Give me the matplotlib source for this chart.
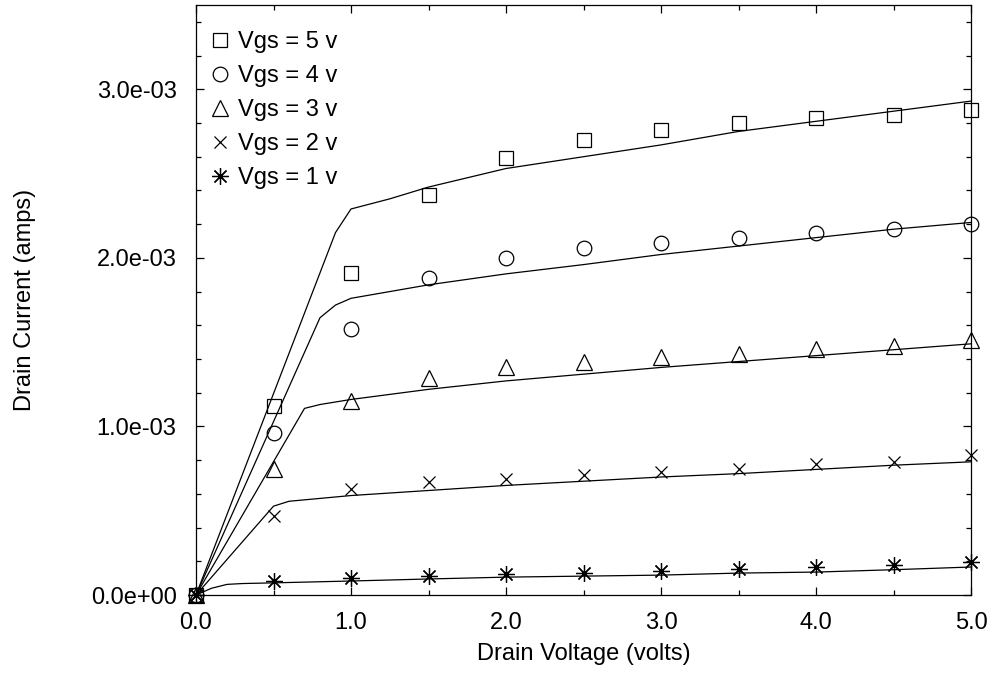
import matplotlib
matplotlib.use("Agg")
import matplotlib.pyplot as plt
from matplotlib.ticker import MultipleLocator, FormatStrFormatter

plt.rcParams['font.family'] = ['Liberation Sans', 'DejaVu Sans']

# measured points (drain voltage, volts)
vd = [0.0, 0.5, 1.0, 1.5, 2.0, 2.5, 3.0, 3.5, 4.0, 4.5, 5.0]
meas_5 = [0.0, 1.12e-3, 1.91e-3, 2.37e-3, 2.59e-3, 2.70e-3, 2.76e-3, 2.80e-3, 2.83e-3, 2.85e-3, 2.88e-3]
meas_4 = [0.0, 0.96e-3, 1.58e-3, 1.88e-3, 2.00e-3, 2.06e-3, 2.09e-3, 2.12e-3, 2.15e-3, 2.17e-3, 2.20e-3]
meas_3 = [0.0, 0.75e-3, 1.15e-3, 1.29e-3, 1.35e-3, 1.38e-3, 1.41e-3, 1.43e-3, 1.46e-3, 1.48e-3, 1.51e-3]
meas_2 = [0.0, 0.47e-3, 0.63e-3, 0.67e-3, 0.69e-3, 0.71e-3, 0.73e-3, 0.75e-3, 0.775e-3, 0.79e-3, 0.83e-3]
meas_1 = [0.0, 0.083e-3, 0.10e-3, 0.11e-3, 0.124e-3, 0.13e-3, 0.142e-3, 0.154e-3, 0.166e-3, 0.178e-3, 0.195e-3]

# model curves
mx_5 = [0.0, 0.9, 1.0, 1.25, 1.5, 2.0, 2.5, 3.0, 3.5, 4.0, 4.5, 5.0]
my_5 = [0.0, 2.15e-3, 2.29e-3, 2.35e-3, 2.42e-3, 2.53e-3, 2.60e-3, 2.67e-3, 2.75e-3, 2.81e-3, 2.87e-3, 2.93e-3]
mx_4 = [0.0, 0.8, 0.9, 1.0, 1.5, 2.0, 2.5, 3.0, 3.5, 4.0, 4.5, 5.0]
my_4 = [0.0, 1.645e-3, 1.72e-3, 1.76e-3, 1.84e-3, 1.905e-3, 1.96e-3, 2.02e-3, 2.07e-3, 2.12e-3, 2.17e-3, 2.21e-3]
mx_3 = [0.0, 0.7, 0.8, 1.0, 1.5, 2.0, 2.5, 3.0, 3.5, 4.0, 4.5, 5.0]
my_3 = [0.0, 1.107e-3, 1.13e-3, 1.16e-3, 1.22e-3, 1.27e-3, 1.31e-3, 1.35e-3, 1.385e-3, 1.42e-3, 1.455e-3, 1.49e-3]
mx_2 = [0.0, 0.5, 0.6, 1.0, 1.5, 2.0, 2.5, 3.0, 3.5, 4.0, 4.5, 5.0]
my_2 = [0.0, 0.527e-3, 0.556e-3, 0.59e-3, 0.62e-3, 0.65e-3, 0.675e-3, 0.70e-3, 0.72e-3, 0.745e-3, 0.77e-3, 0.79e-3]
mx_1 = [0.0, 0.1, 0.2, 0.3, 0.5, 1.0, 1.5, 2.0, 2.5, 3.0, 3.5, 4.0, 4.5, 5.0]
my_1 = [0.0, 0.04e-3, 0.063e-3, 0.068e-3, 0.072e-3, 0.083e-3, 0.095e-3, 0.106e-3, 0.112e-3, 0.118e-3, 0.13e-3, 0.136e-3, 0.15e-3, 0.166e-3]

labels = ["Vgs = 5 v", "Vgs = 4 v", "Vgs = 3 v", "Vgs = 2 v", "Vgs = 1 v"]

fs = 17

fig = plt.figure(figsize=(9.95, 6.76), dpi=100)
ax = fig.add_axes([196 / 995, 1 - 595 / 676, 775 / 995, 590 / 676])

for x, y in [(mx_5, my_5), (mx_4, my_4), (mx_3, my_3), (mx_2, my_2), (mx_1, my_1)]:
    ax.plot(x, y, color='black', lw=0.9)

ms = dict(color='black', linestyle='none', mfc='none', mec='black', mew=0.9, clip_on=False)
ax.plot(vd, meas_5, marker='s', ms=9.5, label=labels[0], **ms)
ax.plot(vd, meas_4, marker='o', ms=10.5, label=labels[1], **ms)
ax.plot(vd, meas_3, marker='^', ms=11, label=labels[2], **ms)
ax.plot(vd, meas_2, marker='x', ms=9, label=labels[3], **ms)
ax.plot(vd, meas_1, marker=(8, 2, 0), ms=12, label=labels[4], **ms)
ax.plot(vd, meas_1, marker='.', ms=4, **ms)

ax.set_xlim(0, 5)
ax.set_ylim(0, 3.5e-3)
ax.xaxis.set_major_locator(MultipleLocator(1.0))
ax.xaxis.set_minor_locator(MultipleLocator(0.5))
ax.yaxis.set_major_locator(MultipleLocator(1e-3))
ax.yaxis.set_minor_locator(MultipleLocator(0.2e-3))
ax.xaxis.set_major_formatter(FormatStrFormatter('%.1f'))
ax.yaxis.set_major_formatter(FormatStrFormatter('%.1e'))
ax.tick_params(which='both', direction='in', top=True, right=True, labelsize=fs, width=0.9)
ax.tick_params(which='major', length=6)
ax.tick_params(which='minor', length=3.5)
ax.tick_params(axis='x', which='major', pad=12)
ax.tick_params(axis='y', which='major', pad=14)
for s in ax.spines.values():
    s.set_linewidth(0.9)

ax.set_xlabel("Drain Voltage (volts)", fontsize=fs)
ax.set_ylabel("Drain Current (amps)", fontsize=fs)
ax.xaxis.set_label_coords(0.5, -0.082)
ax.yaxis.set_label_coords(-0.206, 0.5)

ax.legend(loc='upper left', frameon=False, fontsize=fs, handlelength=0.64,
          handletextpad=0.44, labelspacing=0.51, borderaxespad=0.3,
          bbox_to_anchor=(0.0, 0.984))

fig.savefig("out.png", dpi=100)
